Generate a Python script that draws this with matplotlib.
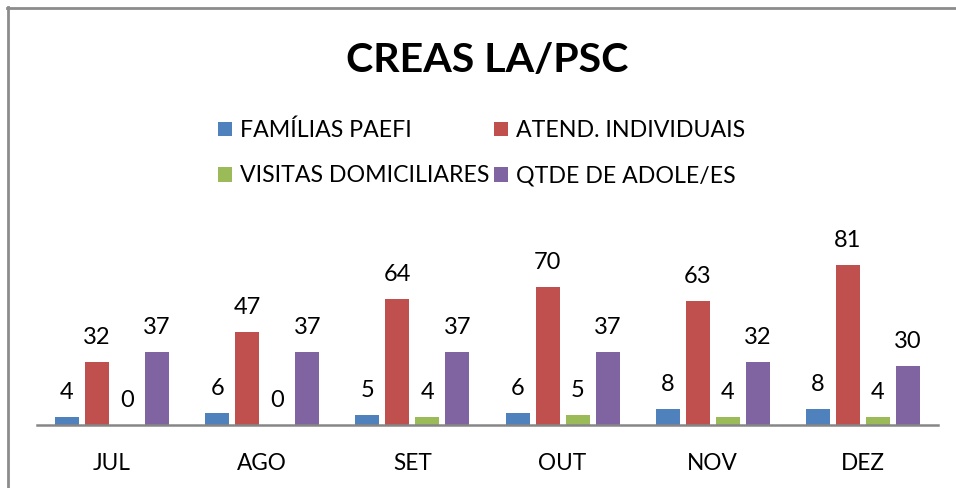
import matplotlib
matplotlib.use("Agg")
import matplotlib.pyplot as plt
import numpy as np
from matplotlib.lines import Line2D

plt.rcParams['font.family'] = ['Lato', 'DejaVu Sans']

months = ["JUL", "AGO", "SET", "OUT", "NOV", "DEZ"]
series_names = ["FAMÍLIAS PAEFI", "ATEND. INDIVIDUAIS", "VISITAS DOMICILIARES", "QTDE DE ADOLE/ES"]
familias = [4, 6, 5, 6, 8, 8]
atend = [32, 47, 64, 70, 63, 81]
visitas = [0, 0, 4, 5, 4, 4]
qtde = [37, 37, 37, 37, 32, 30]
colors = ["#4F81BD", "#C0504D", "#9BBB59", "#8064A2"]

W, H = 956, 488
fig = plt.figure(figsize=(W / 100, H / 100), dpi=100)
fig.patch.set_facecolor("white")

x0, x1 = 37, 938
ybase = 425
ymax = 90
ppu = 1.975
ytop = ybase - ymax * ppu
ax = fig.add_axes([x0 / W, (H - ybase) / H, (x1 - x0) / W, (ybase - ytop) / H])
ax.set_xlim(-0.5, 5.5)
ax.set_ylim(0, ymax)

x = np.arange(len(months))
width = 0.16
offsets = [-0.3, -0.1, 0.1, 0.3]
data = [familias, atend, visitas, qtde]
handles = []
for vals, off, c, name in zip(data, offsets, colors, series_names):
    bars = ax.bar(x + off, vals, width=width, color=c, label=name, zorder=2)
    handles.append(bars)
    for xi, v in zip(x + off, vals):
        ax.annotate(str(v), (xi, v), xytext=(0, 13), textcoords="offset points",
                    ha="center", va="baseline", fontsize=17, color="black")

for s in ["top", "right", "left"]:
    ax.spines[s].set_visible(False)
ax.spines["bottom"].set_color("#868686")
ax.spines["bottom"].set_linewidth(1.8)
ax.set_yticks([])
ax.set_xticks(x)
ax.set_xticklabels(months, fontsize=16.3)
ax.tick_params(axis="x", length=0, pad=20)

fig.text(487 / W, 1 - 60 / H, "CREAS LA/PSC", ha="center", va="center",
         fontsize=29.6, fontweight="bold")

order = [0, 2, 1, 3]
leg = ax.legend([handles[i] for i in order], [series_names[i] for i in order],
                loc="center", bbox_to_anchor=(482 / W, 1 - 153 / H),
                bbox_transform=fig.transFigure, ncol=2, frameon=False,
                fontsize=16.7, handlelength=0.6, handleheight=0.6,
                handletextpad=0.35, columnspacing=0.2, labelspacing=1.05)

fig.add_artist(Line2D([7 / W, 1.0], [1 - 7.5 / H, 1 - 7.5 / H], transform=fig.transFigure,
                      color="#8C8C8C", linewidth=2.0))
fig.add_artist(Line2D([7.5 / W, 7.5 / W], [0, 1 - 7 / H], transform=fig.transFigure,
                      color="#8C8C8C", linewidth=2.0))

fig.savefig("out.png", dpi=100, facecolor="white")
